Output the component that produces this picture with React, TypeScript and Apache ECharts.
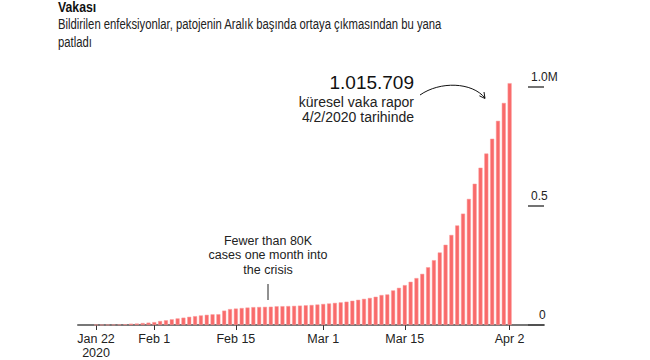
import React, { useEffect, useRef } from "react";
import * as echarts from "echarts";

// Day index 0 = Jan 22, 2020 ... 71 = Apr 2, 2020
const dayIndex: number[] = Array.from({ length: 72 }, (_, i) => i);
const cases: number[] = [
  555, 654, 941, 1434, 2118, 2927, 5578, 6166, 8234, 9927,
  12038, 16787, 19881, 23892, 27635, 30817, 34391, 37120, 40150, 42762,
  44802, 45221, 60368, 66885, 69030, 71224, 73258, 75136, 75639, 76197,
  76819, 78572, 78958, 79561, 80406, 81388, 82746, 84112, 86011, 88369,
  90306, 92840, 95120, 97886, 101801, 105847, 109821, 113590, 118620, 125875,
  128352, 145205, 156101, 167454, 181574, 197102, 214821, 242570, 272208, 304507,
  336953, 378235, 418045, 467653, 529591, 593291, 660706, 720117, 782365, 857487,
  932605, 1015709,
];
const xTickDays: number[] = [0, 10, 24, 39, 53, 71];
const xTickLabels: string[] = ["Jan 22\n2020", "Feb 1", "Feb 15", "Mar 1", "Mar 15", "Apr 2"];
const yTickValues: number[] = [0, 500000, 1000000];
const yTickLabels: string[] = ["0", "0.5", "1.0M"];

const TITLE = "Vakası";
const SUBTITLE_1 = "Bildirilen enfeksiyonlar, patojenin Aralık başında ortaya çıkmasından bu yana";
const SUBTITLE_2 = "patladı";
const BIG_NUMBER = "1.015.709";
const BIG_NOTE_1 = "küresel vaka rapor";
const BIG_NOTE_2 = "4/2/2020 tarihinde";
const MID_NOTE = ["Fewer than 80K", "cases one month into", "the crisis"];

export default function App() {
  const ref = useRef<HTMLDivElement>(null);
  useEffect(() => {
    if (!ref.current) return;
    const chart = echarts.init(ref.current, null, { renderer: "svg" });
    const sans = "'Liberation Sans', Arial, sans-serif";
    const midY = [240.7, 255.2, 269.8];
    chart.setOption({
      animation: false,
      backgroundColor: "#ffffff",
      grid: { left: 78, right: 106, top: 63.1, bottom: 34, containLabel: false },
      xAxis: {
        type: "value",
        min: -3.1,
        max: 76.9,
        splitLine: { show: false },
        axisLine: { show: true, onZero: false, lineStyle: { color: "#777777", width: 2 } },
        axisTick: {
          show: true,
          customValues: xTickDays,
          length: 5,
          lineStyle: { color: "#333333", width: 1 },
        },
        axisLabel: {
          customValues: xTickDays,
          formatter: (v: number) => xTickLabels[xTickDays.indexOf(v)] ?? "",
          color: "#222222",
          fontFamily: sans,
          fontSize: 12.5,
          lineHeight: 14,
          margin: 7,
        },
      },
      yAxis: {
        type: "value",
        position: "right",
        min: 0,
        max: 1100000,
        splitLine: { show: false },
        axisLine: { show: false, onZero: false },
        axisTick: {
          show: true,
          inside: true,
          length: 16,
          customValues: yTickValues,
          lineStyle: { color: "#444444", width: 1.5 },
        },
        axisLabel: {
          inside: true,
          customValues: yTickValues,
          formatter: (v: number) => {
            const l = yTickLabels[yTickValues.indexOf(v)] ?? "";
            return v === 0 ? "{z|" + l + "}" : l;
          },
          rich: { z: { padding: [0, 0, 0, 8], fontSize: 12, color: "#222222", fontFamily: sans } },
          align: "left",
          verticalAlign: "bottom",
          margin: 13,
          padding: [0, 0, 4, 0],
          color: "#222222",
          fontFamily: sans,
          fontSize: 12,
        },
      },
      series: [
        {
          type: "bar",
          data: dayIndex.map((d, i) => [d, cases[i]]),
          barWidth: 4,
          itemStyle: { color: "#f96a6a", borderColor: "#fb9a9a", borderWidth: 0.5 },
          clip: false,
        },
      ],
      graphic: [
        {
          type: "text",
          x: 58,
          y: 7.5,
          scaleX: 0.82,
          style: { text: TITLE, font: "bold 15px " + sans, fill: "#111111", verticalAlign: "middle" },
        },
        {
          type: "text",
          x: 58,
          y: 24.5,
          scaleX: 0.79,
          style: { text: SUBTITLE_1, font: "14.3px " + sans, fill: "#222222", verticalAlign: "middle" },
        },
        {
          type: "text",
          x: 58,
          y: 42,
          scaleX: 0.79,
          style: { text: SUBTITLE_2, font: "14.3px " + sans, fill: "#222222", verticalAlign: "middle" },
        },
        {
          type: "text",
          x: 414,
          y: 82.7,
          style: { text: BIG_NUMBER, font: "19px " + sans, fill: "#111111", align: "right", verticalAlign: "middle" },
        },
        {
          type: "text",
          x: 414,
          y: 101.5,
          style: { text: BIG_NOTE_1, font: "14px " + sans, fill: "#222222", align: "right", verticalAlign: "middle" },
        },
        {
          type: "text",
          x: 414,
          y: 117,
          style: { text: BIG_NOTE_2, font: "14px " + sans, fill: "#222222", align: "right", verticalAlign: "middle" },
        },
        ...MID_NOTE.map((t, i) => ({
          type: "text",
          x: 268,
          y: midY[i],
          style: { text: t, font: "12.5px " + sans, fill: "#222222", align: "center", verticalAlign: "middle" },
        })),
        {
          type: "line",
          shape: { x1: 268, y1: 284, x2: 268, y2: 300 },
          style: { stroke: "#222222", lineWidth: 1 },
        },
        {
          type: "bezierCurve",
          shape: { x1: 420, y1: 95, cpx1: 440, cpy1: 81, cpx2: 472, cpy2: 82, x2: 485, y2: 98 },
          style: { stroke: "#111111", lineWidth: 1, fill: null },
        },
        {
          type: "polyline",
          shape: { points: [[484, 92], [485, 98.5], [479.4, 95.8]] },
          style: { stroke: "#111111", lineWidth: 1, fill: null },
        },
      ],
    });
    return () => chart.dispose();
  }, []);
  return <div ref={ref} style={{ position: "absolute", left: 0, top: 0, width: 650, height: 360 }} />;
}
